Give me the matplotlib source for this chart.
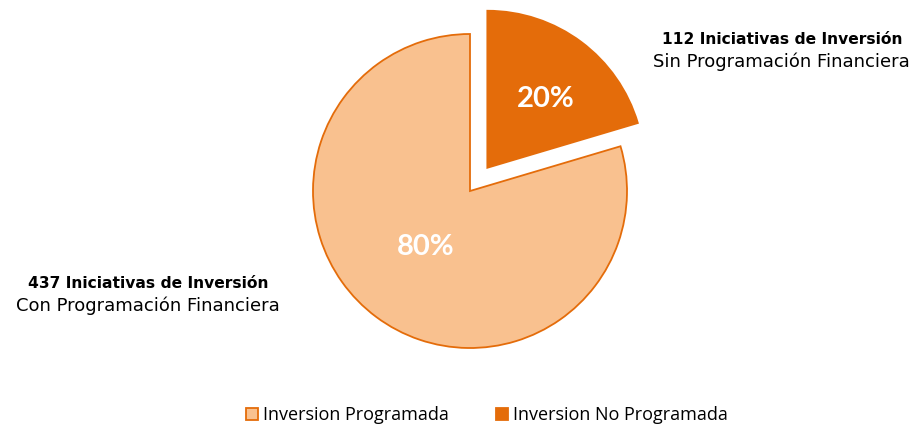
import numpy as np
import matplotlib.pyplot as plt
from matplotlib.patches import Patch

labels = ['Inversion Programada', 'Inversion No Programada']
counts = [437, 112]
colors = ['#F9C18F', '#E46C0A']
notes = [('437 Iniciativas de Inversión', 'Con Programación Financiera'),
         ('112 Iniciativas de Inversión', 'Sin Programación Financiera')]

fig = plt.figure(figsize=(9.12, 4.26), dpi=100)
ax = fig.add_axes([0, 0, 1, 1])

# explode is in data units here (axes are in pixels)
wedges, _ = ax.pie(counts, colors=colors, startangle=90, counterclock=True,
                   explode=[0, 29], center=(470, 235), radius=157,
                   wedgeprops=dict(edgecolor='#E46C0A', linewidth=1.3))
# pie resets the limits, so set them afterwards
ax.set_xlim(0, 912)
ax.set_ylim(0, 426)
ax.set_aspect('equal')
ax.axis('off')

total = sum(counts)
dist = [70, 92]
for w, c, d in zip(wedges, counts, dist):
    ang = np.deg2rad((w.theta1 + w.theta2) / 2 - 3)
    cx, cy = w.center
    ax.text(cx + d * np.cos(ang), cy + d * np.sin(ang), f'{round(c / total * 100)}%',
            ha='center', va='center_baseline', color='white', fontsize=21,
            fontweight='bold', family='Lato')

# side notes
ax.text(148, 143, notes[0][0], ha='center', va='center', fontsize=11.2,
        fontweight='bold', family='DejaVu Sans')
ax.text(148, 120, notes[0][1], ha='center', va='center', fontsize=13,
        family='DejaVu Sans')
ax.text(782, 387, notes[1][0], ha='center', va='center', fontsize=11.2,
        fontweight='bold', family='DejaVu Sans')
ax.text(781, 364, notes[1][1], ha='center', va='center', fontsize=13,
        family='DejaVu Sans')

handles = [Patch(facecolor=colors[0], edgecolor='#E46C0A', linewidth=1.3),
           Patch(facecolor=colors[1], edgecolor='#E46C0A', linewidth=1.3)]
fig.legend(handles, labels, loc='center', bbox_to_anchor=(0.534, 0.026),
           ncol=2, frameon=False, prop=dict(family='Open Sans', size=13),
           handlelength=0.65, handleheight=0.65, handletextpad=0.3, columnspacing=2.6)

fig.savefig('out.png', dpi=100)
